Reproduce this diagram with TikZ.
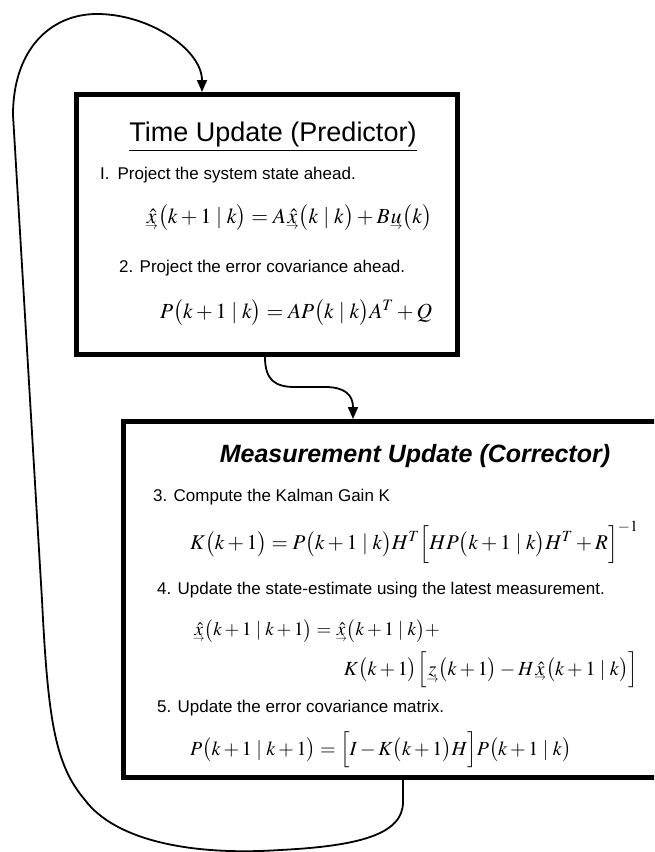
\documentclass[tikz,border=0pt]{standalone}
\usepackage{amsmath}
\usepackage{mathptmx}
\usepackage[no-math]{fontspec}
\setmainfont{Liberation Sans}
\usetikzlibrary{arrows.meta}
\newcommand{\vsotto}[1]{\vtop{\offinterlineskip\ialign{\hfil##\hfil\cr$#1$\cr\noalign{\kern1pt}$\scriptscriptstyle\rightarrow$\cr}}}
\begin{document}
\begin{tikzpicture}[x=1pt,y=-1pt,
  riquadro/.style={draw,line width=5pt,inner sep=0pt,anchor=north west},
  testo/.style={anchor=west,inner sep=0pt,font=\fontsize{17}{20}\selectfont},
  formula/.style={anchor=west,inner sep=0pt,font=\fontsize{20}{23}\selectfont},
  formulagr/.style={formula,font=\fontsize{21.5}{24}\selectfont},
  freccia/.style={line width=1.8pt,-{Triangle[width=10pt,length=12pt]}}]
  \clip (0,0) rectangle (654,852);
  % Riquadri
  \node[riquadro,minimum width=381pt,minimum height=260pt] (pred) at (74,92) {};
  \node[riquadro,minimum width=545pt,minimum height=356pt] (corr) at (121,419) {};
  % Predittore
  \node[inner sep=0pt,font=\fontsize{27}{30}\selectfont] (tpred) at (273,137) {\underline{Time Update (Predictor)}};
  \node[testo] (p1) at (100,175) {I.\hspace{8pt}Project the system state ahead.};
  \node[formulagr] (f1) at (145,218) {$\vsotto{\hat{x}}\big(k+1\mid k\big)=A\vsotto{\hat{x}}\big(k\mid k\big)+B\vsotto{u}\big(k\big)$};
  \node[testo] (p2) at (119,268) {2. Project the error covariance ahead.};
  \node[formulagr] (f2) at (160,313) {$P\big(k+1\mid k\big)=AP\big(k\mid k\big)A^{T}+Q$};
  % Correttore
  \node[inner sep=0pt,font=\fontsize{25}{28}\selectfont\bfseries\itshape] (tcorr) at (415,456) {Measurement Update (Corrector)};
  \node[testo] (p3) at (153,497) {3. Compute the Kalman Gain K};
  \node[formula,font=\fontsize{21}{24}\selectfont] (f3) at (190,542) {$K\big(k+1\big)=P\big(k+1\mid k\big)H^{T}\Big[HP\big(k+1\mid k\big)H^{T}+R\Big]^{-1}$};
  \node[testo] (p4) at (157,590) {4. Update the state-estimate using the latest measurement.};
  \node[formula,font=\fontsize{19}{22}\selectfont] (f4a) at (193,631) {$\vsotto{\hat{x}}\big(k+1\mid k+1\big)=\vsotto{\hat{x}}\big(k+1\mid k\big)+$};
  \node[formula,anchor=east] (f4b) at (638,670) {$K\big(k+1\big)\Big[\vsotto{z}\big(k+1\big)-H\vsotto{\hat{x}}\big(k+1\mid k\big)\Big]$};
  \node[testo] (p5) at (157,708) {5. Update the error covariance matrix.};
  \node[formula] (f5) at (190,750) {$P\big(k+1\mid k+1\big)=\Big[I-K\big(k+1\big)H\Big]P\big(k+1\mid k\big)$};
  % Frecce
  \draw[freccia] ([xshift=191pt]pred.south west) .. controls +(0,23) and (275,387) .. (295,387)
    -- (325,387) .. controls (345,387) and ([yshift=24pt]corr.north west -| 353,0) .. ([xshift=232pt]corr.north west);
  \draw[freccia] ([xshift=282pt]corr.south west) -- ++(0,22) .. controls +(0,32) and (360,846) .. (280,850)
    .. controls (190,856) and (115,840) .. (85,800) .. controls (55,765) and (48,720) .. (42,600)
    -- (13,115) .. controls (13,50) and (50,14) .. (97,14)
    .. controls (150,14) and (202,50) .. ([xshift=128pt]pred.north west);
\end{tikzpicture}
\end{document}
